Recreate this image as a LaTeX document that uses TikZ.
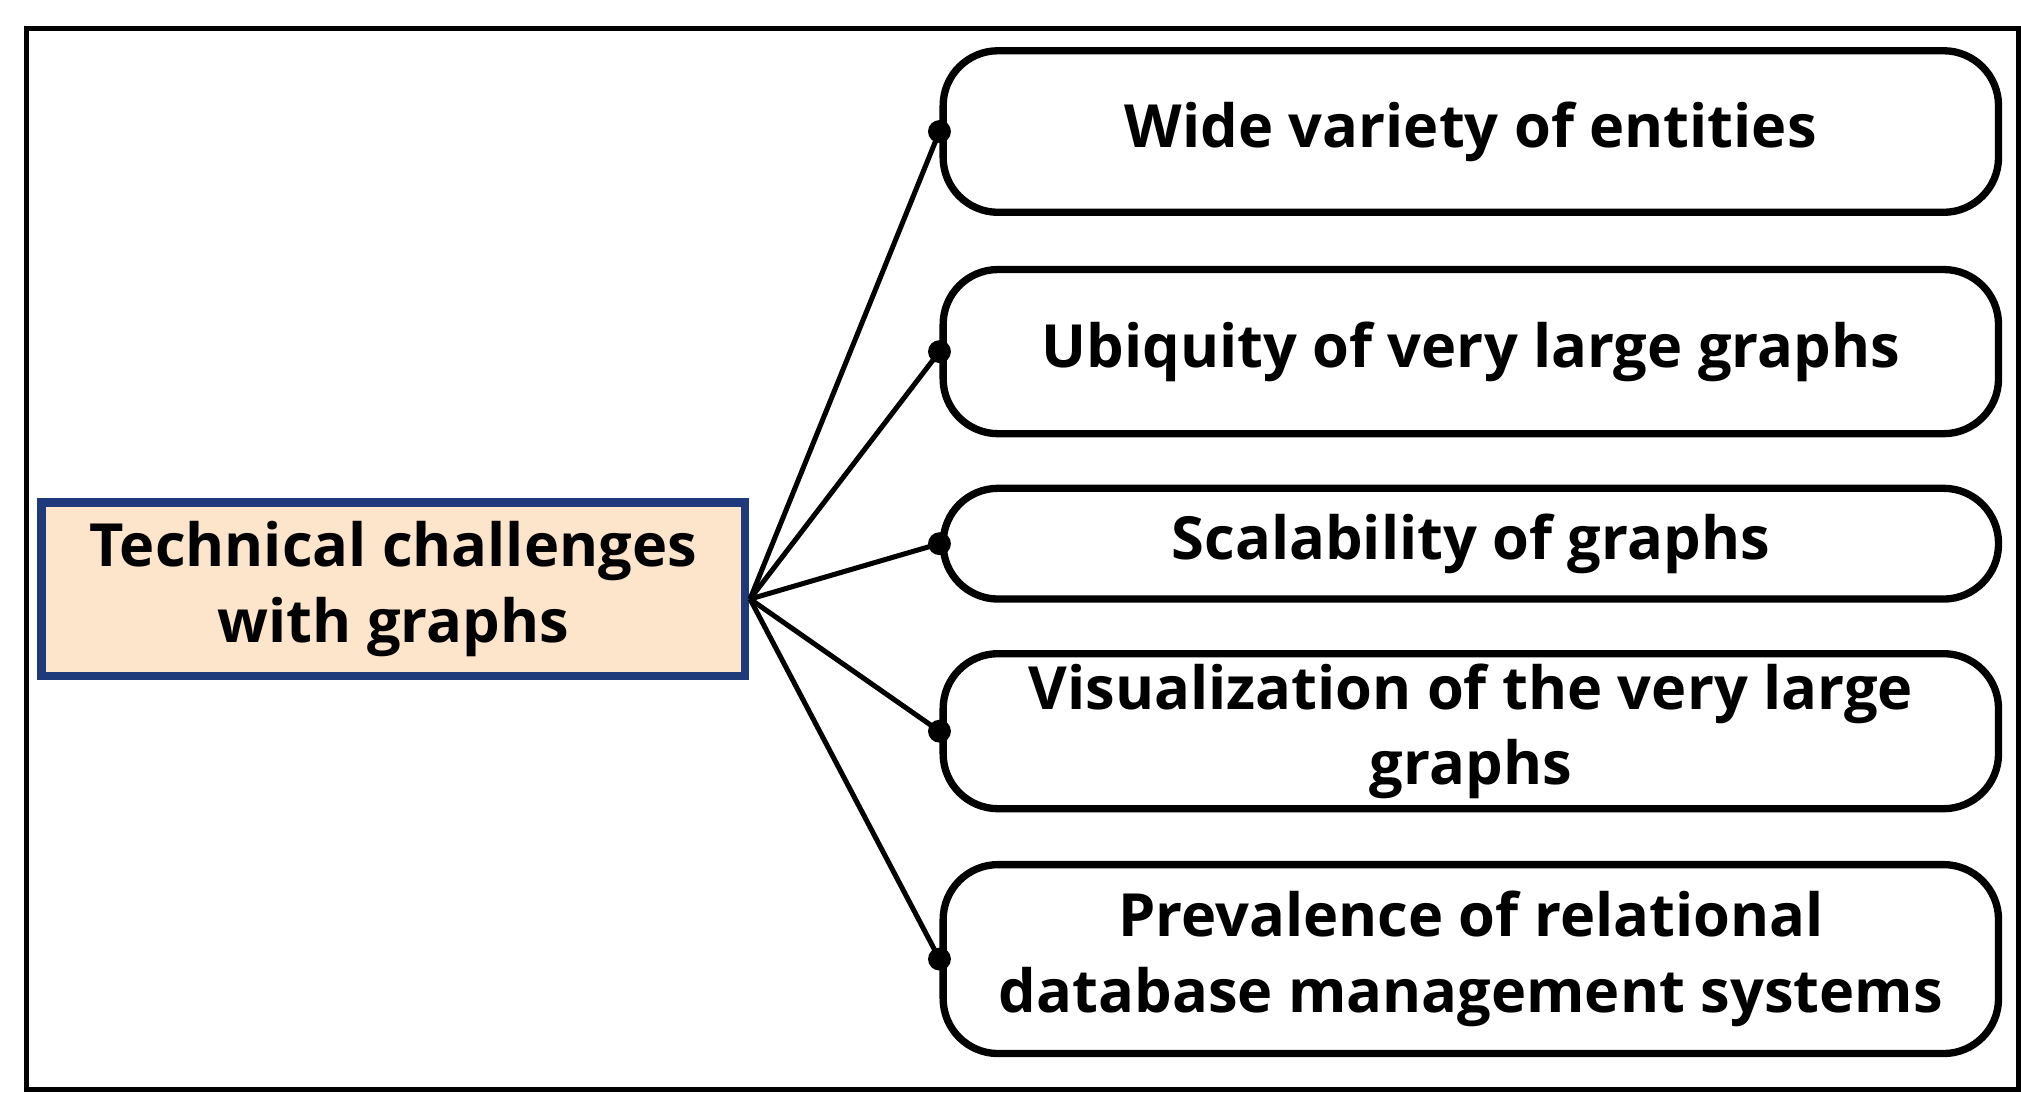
\documentclass[tikz,border=0pt]{standalone}
\usepackage{fontspec}
\setmainfont{Open Sans}
\begin{document}
\begin{tikzpicture}[x=0.01cm,y=-0.01cm,
  rbox/.style={draw,line width=1.6pt,rounded corners=12pt,align=center,font=\bfseries\fontsize{13}{16.5}\selectfont,inner sep=0pt},
  conn/.style={line width=1.1pt},
  dot/.style={circle,fill,inner sep=0pt,minimum size=5pt}]
\useasboundingbox (0,0) rectangle (1552,848);
\draw[line width=1.1pt] (20,22) rectangle (1550,837);
\definecolor{peach}{HTML}{FDE5CC}
\definecolor{navy}{HTML}{1F3A7A}
\node[draw=navy,fill=peach,line width=1.8pt,minimum width=5.40cm,minimum height=1.33cm,align=center,font=\bfseries\fontsize{13}{16.5}\selectfont,inner sep=0pt] (c) at (302,452.5) {Technical challenges\\with graphs};
\coordinate (hub) at (576,460);
\node[rbox,minimum width=8.1cm,minimum height=1.24cm] (b1) at (1129.5,101) {Wide variety of entities};
\node[rbox,minimum width=8.1cm,minimum height=1.26cm] (b2) at (1129.5,270) {Ubiquity of very large graphs};
\node[rbox,minimum width=8.1cm,minimum height=0.85cm] (b3) at (1129.5,417.5) {Scalability of graphs};
\node[rbox,minimum width=8.1cm,minimum height=1.19cm] (b4) at (1129.5,561.5) {Visualization of the very large\\graphs};
\node[rbox,minimum width=8.1cm,minimum height=1.45cm] (b5) at (1129.5,736.5) {Prevalence of relational\\database management systems};
\foreach \b in {b1,b2,b3,b4,b5}{
  \draw[conn] (hub) -- (\b.west);
  \node[dot] at (\b.west) {};
}
\end{tikzpicture}
\end{document}
